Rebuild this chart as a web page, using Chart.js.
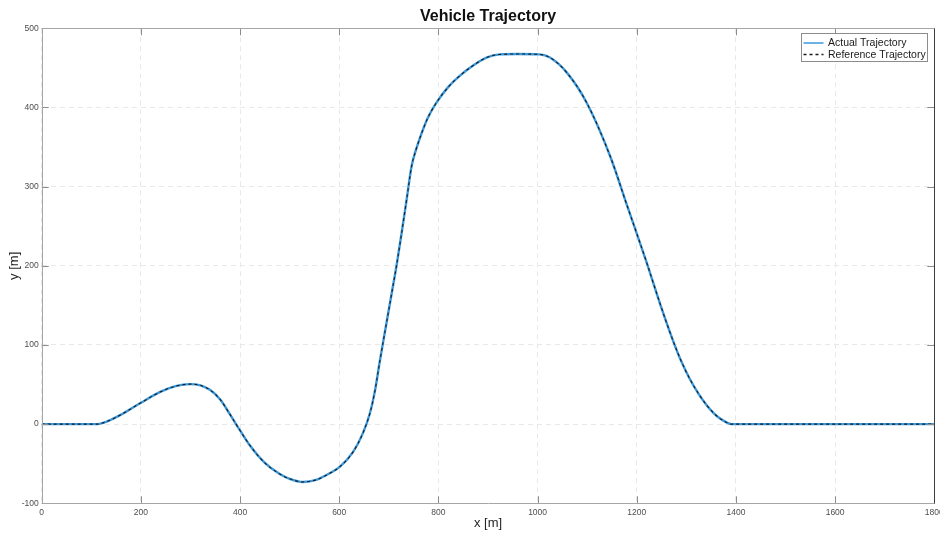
<!DOCTYPE html>
<html>
<head>
<meta charset="utf-8">
<title>Vehicle Trajectory</title>
<script src="https://cdn.jsdelivr.net/npm/chart.js@4/dist/chart.umd.min.js"></script>
<style>
  html, body { margin: 0; padding: 0; background: #fff; }
  canvas { display: block; }
</style>
</head>
<body>
<canvas id="traj" width="940" height="533"></canvas>
<script>
// Path samples (x in m, y in m)
const pathX = [0, 60, 110, 130, 160, 200, 240, 270, 299, 320, 340, 360, 380, 400, 420, 450, 480, 500, 527, 555,
    581, 601, 628, 648, 662, 672, 682, 692, 706, 716, 726, 736, 746, 755, 763, 778, 796, 820, 843, 870,
    897, 924, 960, 1004, 1025, 1059, 1099, 1146, 1180, 1220, 1247, 1274, 1290, 1307, 1325, 1341, 1355, 1368, 1380, 1391,
    1450, 1600, 1800];
const pathY = [0, 0, 0, 3, 12, 27, 41, 48, 50.5, 49, 43, 31, 12, -8, -27, -49, -63, -69, -73, -70,
    -62, -54, -35, -11, 14, 42, 80, 116, 166, 202, 242, 284, 326, 347, 362, 386, 406, 426, 440, 453,
    463, 467, 467.5, 467, 463, 444, 406, 339, 277, 204, 152, 104, 79, 57, 38, 24, 14, 7, 2.5, 0,
    0, 0, 0];

// the controller follows the reference closely, so both traces share the samples
const refX = pathX.slice();
const refY = pathY.slice();

const xTicks = [0, 200, 400, 600, 800, 1000, 1200, 1400, 1600, 1800];
const yTicks = [-100, 0, 100, 200, 300, 400, 500];

const toPoints = (xs, ys) => xs.map((x, i) => ({ x: x, y: ys[i] }));
const FONT = '"Liberation Sans", Arial, sans-serif';

// frame, inward tick marks, title and legend box
const framePlugin = {
    id: 'frame',
    afterDraw(chart) {
        const ctx = chart.ctx;
        const a = chart.chartArea;
        const xs = chart.scales.x, ys = chart.scales.y;
        ctx.save();
        ctx.lineWidth = 1;

        // tick marks pointing into the plot
        ctx.strokeStyle = '#8c8c8c';
        ctx.beginPath();
        xTicks.forEach(v => {
            const px = Math.round(xs.getPixelForValue(v)) + 0.5;
            ctx.moveTo(px, a.bottom); ctx.lineTo(px, a.bottom - 7);
            ctx.moveTo(px, a.top); ctx.lineTo(px, a.top + 7);
        });
        yTicks.forEach(v => {
            const py = Math.round(ys.getPixelForValue(v)) + 0.5;
            ctx.moveTo(a.left, py); ctx.lineTo(a.left + 7, py);
            ctx.moveTo(a.right, py); ctx.lineTo(a.right - 7, py);
        });
        ctx.stroke();

        // box
        const l = Math.round(a.left) + 0.5, r = Math.round(a.right) + 0.5;
        const t = Math.round(a.top) + 0.5, b = Math.round(a.bottom) + 0.5;
        ctx.strokeStyle = '#a6a6a6';
        ctx.beginPath();
        ctx.moveTo(r, t); ctx.lineTo(l, t); ctx.lineTo(l, b); ctx.lineTo(r, b);
        ctx.stroke();
        ctx.strokeStyle = '#3c3c3c';
        ctx.beginPath();
        ctx.moveTo(r, t); ctx.lineTo(r, b);
        ctx.stroke();

        // title
        ctx.fillStyle = '#111';
        ctx.font = 'bold 16px ' + FONT;
        ctx.textAlign = 'center';
        ctx.textBaseline = 'middle';
        ctx.fillText('Vehicle Trajectory', (a.left + a.right) / 2, 16.5);

        // legend
        const lx = 801.5, ly = 33.5, lw = 126, lh = 28;
        ctx.fillStyle = '#fff';
        ctx.fillRect(lx, ly, lw, lh);
        ctx.strokeStyle = '#8c8c8c';
        ctx.strokeRect(lx, ly, lw, lh);
        ctx.font = '10.5px ' + FONT;
        ctx.textAlign = 'left';
        chart.data.datasets.slice().reverse().forEach((ds, i) => {
            const yy = ly + 9.5 + i * 11.5;
            ctx.strokeStyle = ds.borderColor;
            ctx.lineWidth = 1.5;
            ctx.setLineDash(ds.borderDash || []);
            ctx.beginPath();
            ctx.moveTo(lx + 2, yy); ctx.lineTo(lx + 22, yy);
            ctx.stroke();
            ctx.setLineDash([]);
            ctx.fillStyle = '#1a1a1a';
            ctx.fillText(ds.label, lx + 26.5, yy + 0.5);
        });
        ctx.restore();
    }
};

const tickFont = { family: FONT, size: 8.5 };
const titleFont = { family: FONT, size: 13 };

new Chart(document.getElementById('traj'), {
    type: 'scatter',
    data: {
        datasets: [
            {
                label: 'Reference Trajectory',
                data: toPoints(refX, refY),
                showLine: true,
                borderColor: '#1a1a1a',
                borderWidth: 1.1,
                borderDash: [3, 3],
                pointRadius: 0,
                cubicInterpolationMode: 'monotone',
                order: 0
            },
            {
                label: 'Actual Trajectory',
                data: toPoints(pathX, pathY),
                showLine: true,
                borderColor: '#3a98dc',
                borderWidth: 2.4,
                pointRadius: 0,
                cubicInterpolationMode: 'monotone',
                order: 1
            }
        ]
    },
    options: {
        responsive: false,
        animation: false,
        layout: { padding: { top: 28.3, right: 5.7, left: 0, bottom: 0 } },
        plugins: {
            legend: { display: false },
            tooltip: { enabled: false }
        },
        scales: {
            x: {
                type: 'linear',
                min: 0,
                max: 1800,
                afterBuildTicks: s => { s.ticks = xTicks.map(v => ({ value: v })); },
                afterFit: s => { s.height = 29.7; s.paddingLeft = 0; s.paddingRight = 0; },
                grid: { color: '#e8e8e8', lineWidth: 1, drawTicks: false },
                border: { display: false, dash: [5, 4] },
                ticks: {
                    padding: 4,
                    color: '#4d4d4d',
                    font: tickFont,
                    callback: v => String(v)
                },
                title: {
                    display: true,
                    text: 'x [m]',
                    color: '#262626',
                    font: titleFont,
                    padding: { top: 0, bottom: 2 }
                }
            },
            y: {
                type: 'linear',
                min: -100,
                max: 500,
                afterBuildTicks: s => { s.ticks = yTicks.map(v => ({ value: v })); },
                afterFit: s => { s.width = 41.7; s.paddingTop = 0; s.paddingBottom = 0; },
                grid: { color: '#e8e8e8', lineWidth: 1, drawTicks: false },
                border: { display: false, dash: [5, 4] },
                ticks: {
                    padding: 3,
                    color: '#4d4d4d',
                    font: tickFont,
                    callback: v => String(v)
                },
                title: {
                    display: true,
                    text: 'y [m]',
                    color: '#262626',
                    font: titleFont,
                    padding: { top: 7, bottom: 0 }
                }
            }
        }
    },
    plugins: [framePlugin]
});
</script>
</body>
</html>
